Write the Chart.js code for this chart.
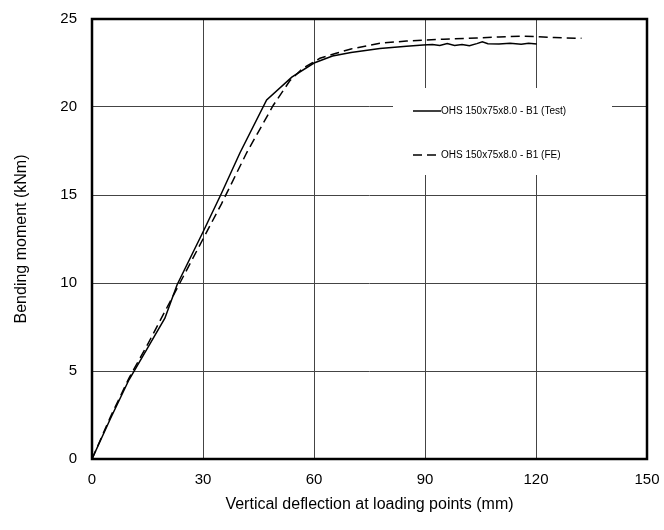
<!DOCTYPE html>
<html>
<head>
<meta charset="utf-8">
<script src="https://cdn.jsdelivr.net/npm/chart.js@4.4.1/dist/chart.umd.min.js"></script>
<style>
  html, body { margin: 0; padding: 0; background: #fff; }
  #wrap { width: 664px; height: 530px; }
</style>
</head>
<body>
<div id="wrap"><canvas id="chart" width="664" height="530"></canvas></div>
<script>
// deflection (mm) / bending moment (kNm)
const testX = [0, 5, 10, 15, 19.7, 23, 30, 35, 40, 47.2, 54, 60, 65, 70, 77.8, 85, 89.5, 92, 94, 96, 98, 100, 102, 104, 105.5, 107, 110, 113, 116, 118, 120.2];
const testY = [0, 2.3, 4.5, 6.3, 8.0, 9.9, 12.9, 15.1, 17.4, 20.4, 21.7, 22.5, 22.9, 23.1, 23.33, 23.45, 23.52, 23.55, 23.5, 23.6, 23.5, 23.55, 23.48, 23.6, 23.7, 23.6, 23.58, 23.62, 23.57, 23.62, 23.58];

const feX = [0, 5, 10, 15, 20, 25, 30, 35, 41.8, 49, 53.5, 57, 61.6, 66, 70, 77.8, 85, 95, 104, 110, 116.6, 125, 132.3];
const feY = [0, 2.4, 4.6, 6.5, 8.5, 10.5, 12.5, 14.5, 17.4, 20.1, 21.5, 22.2, 22.77, 23.05, 23.3, 23.62, 23.75, 23.85, 23.92, 23.98, 24.03, 23.95, 23.9];

const xTicks = [0, 30, 60, 90, 120, 150];
const yTicks = [0, 5, 10, 15, 20, 25];

const seriesNames = ["OHS 150x75x8.0 - B1 (Test)", "OHS 150x75x8.0 - B1 (FE)"];

const toPoints = (xs, ys) => xs.map((x, i) => ({ x: x, y: ys[i] }));

const FONT = "'Liberation Sans', Arial, sans-serif";

// frame around the plot plus the boxed legend inside it
const frameAndLegend = {
  id: "frameAndLegend",
  afterDraw(chart) {
    const ctx = chart.ctx;
    const a = chart.chartArea;
    ctx.save();

    // legend box, blanks out the grid behind it
    const bx = 393, by = 88, bw = 219, bh = 87;
    ctx.fillStyle = "#fff";
    ctx.fillRect(bx, by, bw, bh);
    ctx.font = "10px " + FONT;
    ctx.textBaseline = "middle";
    ctx.fillStyle = "#000";
    const rows = [111, 155];
    chart.data.datasets.forEach((ds, i) => {
      ctx.strokeStyle = "#000";
      ctx.lineWidth = 1.5;
      ctx.setLineDash(ds.borderDash || []);
      ctx.beginPath();
      ctx.moveTo(413, rows[i]);
      ctx.lineTo(441, rows[i]);
      ctx.stroke();
      ctx.setLineDash([]);
      ctx.fillText(ds.label, 441, rows[i]);
    });

    ctx.strokeStyle = "#000";
    ctx.lineWidth = 2.5;
    ctx.strokeRect(a.left, a.top, a.right - a.left, a.bottom - a.top);
    ctx.restore();
  }
};

new Chart(document.getElementById("chart"), {
  type: "line",
  data: {
    datasets: [
      {
        label: seriesNames[0],
        data: toPoints(testX, testY),
        borderColor: "#000",
        borderWidth: 1.5,
        pointRadius: 0,
        tension: 0,
        fill: false
      },
      {
        label: seriesNames[1],
        data: toPoints(feX, feY),
        borderColor: "#000",
        borderWidth: 1.5,
        borderDash: [9, 5],
        pointRadius: 0,
        tension: 0,
        fill: false
      }
    ]
  },
  options: {
    responsive: false,
    animation: false,
    layout: { padding: { top: 19, right: 17, left: 0, bottom: 12 } },
    plugins: {
      legend: { display: false },
      tooltip: { enabled: false }
    },
    scales: {
      x: {
        type: "linear",
        min: 0,
        max: 150,
        afterBuildTicks: (s) => { s.ticks = xTicks.map(v => ({ value: v })); },
        afterFit: (s) => { s.height = 59; s.paddingLeft = 0; s.paddingRight = 0; },
        grid: { color: "#444", lineWidth: 1, drawTicks: false },
        border: { display: false },
        ticks: { color: "#000", font: { family: FONT, size: 15 }, padding: 12, maxRotation: 0 },
        title: { display: true, text: "Vertical deflection at loading points (mm)", color: "#000", font: { family: FONT, size: 16 }, padding: { top: 2 } }
      },
      y: {
        type: "linear",
        min: 0,
        max: 25,
        afterBuildTicks: (s) => { s.ticks = yTicks.map(v => ({ value: v })); },
        afterFit: (s) => { s.width = 92; s.paddingTop = 0; s.paddingBottom = 0; },
        grid: { color: "#444", lineWidth: 1, drawTicks: false },
        border: { display: false },
        ticks: { color: "#000", font: { family: FONT, size: 15 }, padding: 15 },
        title: { display: true, text: "Bending moment (kNm)", color: "#000", font: { family: FONT, size: 16 }, padding: { top: 12, bottom: 10 } }
      }
    }
  },
  plugins: [frameAndLegend]
});
</script>
</body>
</html>
